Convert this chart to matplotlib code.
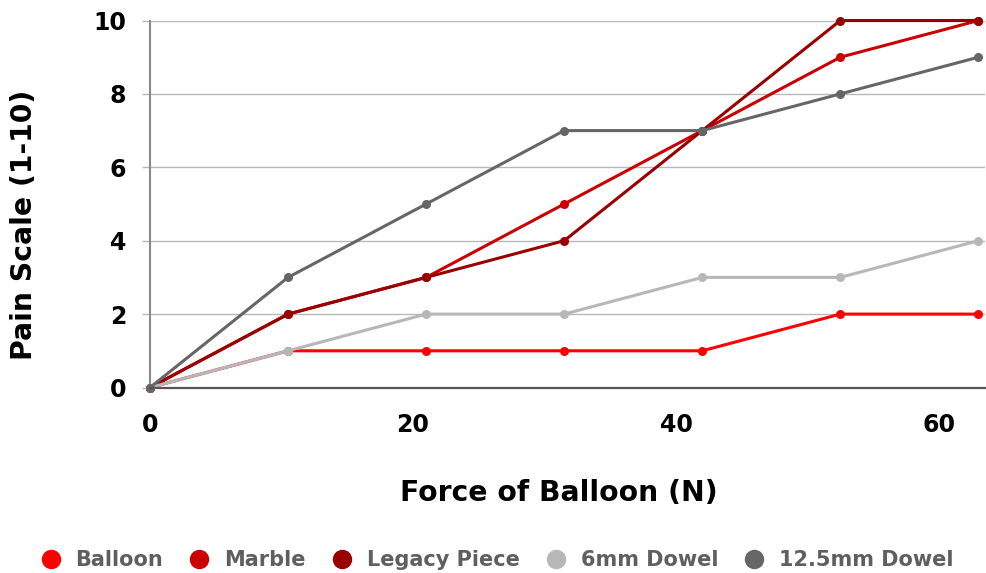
import matplotlib
matplotlib.use("Agg")
import matplotlib.pyplot as plt

# Force applied by the balloon (N) at each trial
force = [0, 10.5, 21, 31.5, 42, 52.5, 63]

# Pain rating (1-10) for each object
series_names = ["Balloon", "Marble", "Legacy Piece", "6mm Dowel", "12.5mm Dowel"]
balloon = [0, 1, 1, 1, 1, 2, 2]
marble = [0, 2, 3, 5, 7, 9, 10]
legacy_piece = [0, 2, 3, 4, 7, 10, 10]
dowel_6mm = [0, 1, 2, 2, 3, 3, 4]
dowel_12_5mm = [0, 3, 5, 7, 7, 8, 9]

x_ticks = [0, 20, 40, 60]
y_ticks = [0, 2, 4, 6, 8, 10]

colors = ["#ff0000", "#cc0000", "#990000", "#b7b7b7", "#666666"]
values = [balloon, marble, legacy_piece, dowel_6mm, dowel_12_5mm]

plt.rcParams["font.family"] = ["DejaVu Sans"]
plt.rcParams["font.weight"] = "bold"

fig = plt.figure(figsize=(9.86, 5.73), dpi=100)
ax = fig.add_axes([150 / 986, 1 - 387.5 / 573, 835 / 986, 367 / 573])

for name, vals, col in zip(series_names, values, colors):
    ax.plot(force, vals, color=col, lw=2.2, marker="o", markersize=6.5,
            markeredgewidth=0, label=name, clip_on=False, zorder=3)

ax.set_xlim(0, 63.5)
ax.set_ylim(0, 10)
ax.set_xticks(x_ticks)
ax.set_yticks(y_ticks)
ax.grid(axis="y", color="#b8b8b8", lw=1.0, zorder=0)
ax.set_axisbelow(True)

for side in ("top", "right"):
    ax.spines[side].set_visible(False)
ax.spines["left"].set_color("#8a8a8a")
ax.spines["left"].set_linewidth(1.5)
ax.spines["bottom"].set_color("#555555")
ax.spines["bottom"].set_linewidth(1.6)
ax.spines["bottom"].set_zorder(4)

ax.tick_params(axis="y", length=6, width=1.0, color="#b8b8b8", pad=11,
               labelsize=17, labelcolor="black")
ax.tick_params(axis="x", length=0, pad=18, labelsize=17, labelcolor="black")
for lbl in ax.get_xticklabels() + ax.get_yticklabels():
    lbl.set_fontweight("bold")

fig.text(559 / 986, 1 - 493 / 573, "Force of Balloon (N)", ha="center", va="center",
         fontsize=20.3, fontweight="bold", color="black")
fig.text(24 / 986, 1 - 225 / 573, "Pain Scale (1-10)", ha="center", va="center",
         rotation=90, fontsize=20.3, fontweight="bold", color="black")

handles, labels = ax.get_legend_handles_labels()
leg = fig.legend(handles, labels, loc="center", ncol=5,
                 bbox_to_anchor=(497 / 986, 1 - 560.5 / 573),
                 frameon=False, handlelength=1.0, handletextpad=0.7,
                 columnspacing=1.23, borderpad=0, borderaxespad=0,
                 prop={"size": 15, "weight": "bold"})
for h in leg.legend_handles:
    h.set_linestyle("none")
    h.set_markersize(14)
for t in leg.get_texts():
    t.set_color("#5f5f5f")

fig.savefig("out.png", dpi=100)
